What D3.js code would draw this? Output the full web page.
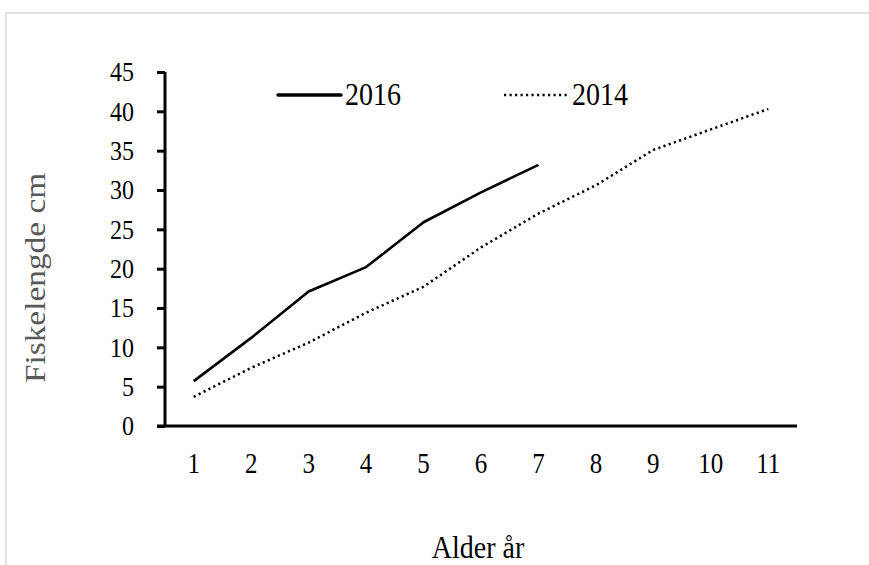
<!DOCTYPE html>
<html>
<head>
<meta charset="utf-8">
<script src="https://cdn.jsdelivr.net/npm/d3@7"></script>
<style>
  body { margin:0; background:#fff; }
  .frame { position:absolute; left:5px; top:12px; width:870px; height:560px;
           border-left:2px solid #e2e2e2; border-top:2px solid #e2e2e2; }
  text { font-family:"Liberation Serif", "Times New Roman", serif;
         transform-box:fill-box; transform-origin:center; transform:scaleY(1.15); }
</style>
</head>
<body>
<div class="frame"></div>
<svg id="chart" width="869" height="565" style="position:absolute;left:0;top:0"></svg>
<script>
// DATA
const ages = ["1","2","3","4","5","6","7","8","9","10","11"];
const len2016 = [5.7, 11.2, 17.1, 20.2, 25.9, 29.7, 33.2];
const len2014 = [3.7, 7.4, 10.6, 14.4, 17.7, 22.7, 27.0, 30.6, 35.1, 37.7, 40.3];
const yTicks = [0,5,10,15,20,25,30,35,40,45];

const margins = {top:72, right:72, bottom:139, left:165};
const width = 869 - margins.left - margins.right;
const height = 565 - margins.top - margins.bottom;

const svg = d3.select("#chart");
const canvas = svg.append("g")
  .attr("transform", `translate(${margins.left},${margins.top})`);

// SCALES
const xScale = d3.scaleBand().domain(ages).range([0, width]);
const yScale = d3.scaleLinear().domain([0,45]).range([height, 0]);

// AXES
const yAxis = canvas.append("g")
  .call(d3.axisLeft(yScale).tickValues(yTicks).tickSize(8).tickPadding(23));
yAxis.select(".domain").attr("stroke","#000").attr("stroke-width",3)
  .attr("d", `M0,${height}V0`);
yAxis.selectAll(".tick line").attr("stroke","#000").attr("stroke-width",3);
yAxis.selectAll(".tick text").style("font-size","24px").attr("fill","#000");

const xAxis = canvas.append("g")
  .attr("transform", `translate(0,${height})`)
  .call(d3.axisBottom(xScale).tickSize(0).tickPadding(28));
xAxis.select(".domain").attr("stroke","#000").attr("stroke-width",3)
  .attr("d", `M-8,0H${width}`);
xAxis.selectAll(".tick text").style("font-size","25px").attr("fill","#000");

// LINES
const line = d3.line()
  .x((d,i) => xScale(ages[i]) + xScale.bandwidth()/2)
  .y(d => yScale(d));

canvas.append("path").datum(len2014)
  .attr("d", line).attr("fill","none").attr("stroke","#000")
  .attr("stroke-width",2.5).attr("stroke-dasharray","2.2,3.3");

canvas.append("path").datum(len2016)
  .attr("d", line).attr("fill","none").attr("stroke","#000")
  .attr("stroke-width",2.6).attr("stroke-linejoin","round");

// LEGEND
const legend = svg.append("g");
legend.append("line").attr("x1",278).attr("x2",341).attr("y1",95).attr("y2",95)
  .attr("stroke","#000").attr("stroke-width",3.5).attr("stroke-linecap","round");
legend.append("text").attr("x",345).attr("y",104).style("font-size","28px").text("2016");
legend.append("line").attr("x1",504).attr("x2",568).attr("y1",95).attr("y2",95)
  .attr("stroke","#000").attr("stroke-width",2.5).attr("stroke-dasharray","2.2,3.3");
legend.append("text").attr("x",572).attr("y",104).style("font-size","28px").text("2014");

// AXIS TITLES
svg.append("text").attr("x",478).attr("y",557).attr("text-anchor","middle")
  .style("font-size","28px").attr("fill","#000").text("Alder år");
svg.append("g").attr("transform","translate(45,278) rotate(-90)")
  .append("text").attr("text-anchor","middle").style("font-size","29px")
  .style("transform","scaleX(1.15)").attr("fill","#595959")
  .text("Fiskelengde cm");
</script>
</body>
</html>
